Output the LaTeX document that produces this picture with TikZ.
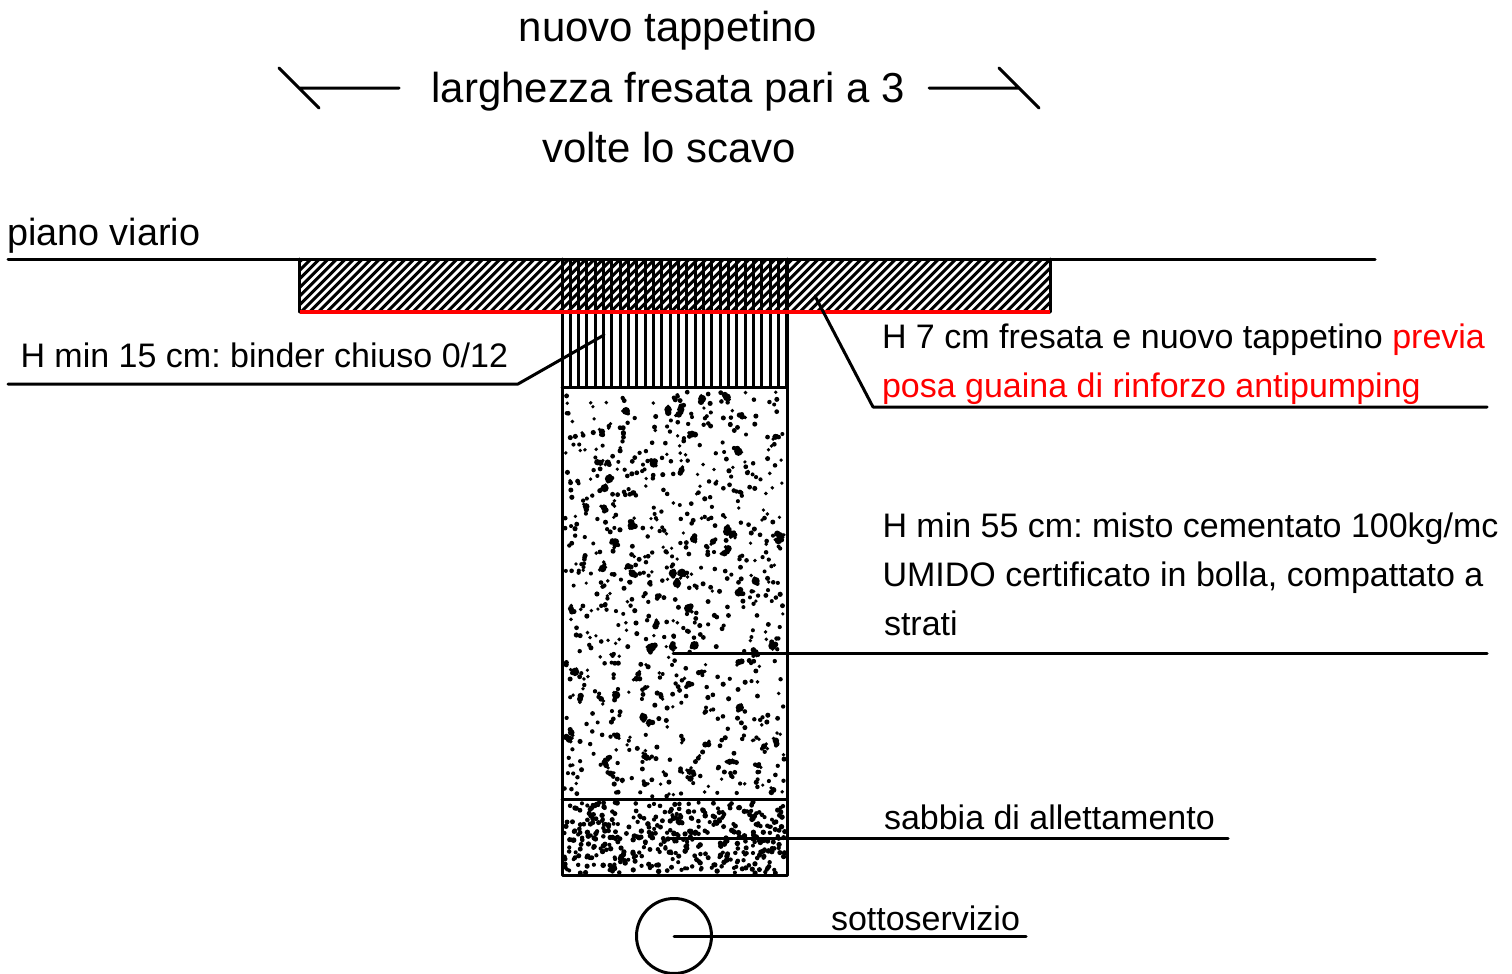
\documentclass[tikz,border=0pt]{standalone}
\usepackage{fontspec}
\setmainfont{Liberation Sans}
\frenchspacing
\tikzset{
  lead/.style={line width=3pt,line cap=round,line join=round},
  txt/.style={inner sep=0pt,outer sep=0pt,anchor=base west,text=black},
  big/.style={inner sep=0pt,outer sep=0pt,anchor=base,font=\fontsize{41.9}{41.9}\selectfont},
  mid/.style={txt,font=\fontsize{34}{34}\selectfont},
}
\newcommand{\speckle}[7]{% x0 x1 y0 y1 count rmin rmax
  \pgfmathsetmacro{\spw}{#2-#1}\pgfmathsetmacro{\sph}{#4-#3}\pgfmathsetmacro{\spr}{#7-#6}
  \foreach \k in {1,...,#5}{
    \pgfmathsetmacro{\px}{#1+rnd*\spw}\pgfmathsetmacro{\py}{#3+rnd*\sph}\pgfmathsetmacro{\pr}{#6+rnd*\spr}
    \fill[black] (\px,\py) circle[radius=\pr];
  }}
\newcommand{\blobs}[5]{% x0 x1 y0 y1 count
  \pgfmathsetmacro{\spw}{#2-#1}\pgfmathsetmacro{\sph}{#4-#3}
  \foreach \k in {1,...,#5}{
    \pgfmathsetmacro{\px}{#1+rnd*\spw}\pgfmathsetmacro{\py}{#3+rnd*\sph}
    \pgfmathsetmacro{\aa}{rnd*360}\pgfmathsetmacro{\bb}{\aa+90+rnd*120}
    \pgfmathsetmacro{\ra}{2.8+rnd*1.6}\pgfmathsetmacro{\rb}{1.9+rnd*1.4}
    \fill[black] (\px,\py) circle[radius=\ra] ({\px+3.2*cos(\aa)},{\py+3.2*sin(\aa)}) circle[radius=\rb] ({\px+3.2*cos(\bb)},{\py+3.2*sin(\bb)}) circle[radius=1.9];
  }}
\begin{document}
\begin{tikzpicture}[x=1pt,y=-1pt]
\useasboundingbox (0,0) rectangle (1512,974);
\pgfmathsetseed{90731}
% hatching
\begin{scope}
\clip (299,259) rectangle (1050,312);
\foreach \i in {-8,...,90}{\draw[line width=3pt] ({299+\i*8.6},314)--({299+\i*8.6+57},257);}
\foreach \i in {0,...,27}{\draw[line width=3pt] ({562+\i*8.33},259)--({562+\i*8.33},312);}
\end{scope}
\begin{scope}
\clip (562,312) rectangle (787,387);
\foreach \i in {0,...,27}{\draw[line width=3pt] ({562+\i*8.33},312)--({562+\i*8.33},387);}
\end{scope}
% speckle
\begin{scope}
\clip (562,387) rectangle (787,875);
\speckle{564}{785}{392}{797}{760}{1.8}{2.6}
\blobs{568}{780}{396}{792}{72}
\speckle{564}{785}{802}{873}{430}{2.0}{2.8}
\end{scope}
% outlines
\draw[lead] (299,312)--(299,259) (1050,259)--(1050,312);
\draw[lead] (562,259)--(562,875)--(787,875)--(787,259);
\draw[lead] (562,387)--(787,387) (562,799)--(787,799);
\coordinate (pvA) at (8,259); \coordinate (pvB) at (1375,259);
\draw[lead] (pvA)--(pvB);
\coordinate (redA) at (300,312); \coordinate (redB) at (1050,312);
\draw[line width=4pt,red] (redA)--(redB);
% arrows
\coordinate (la0) at (399,88); \coordinate (la1) at (299,88);
\coordinate (la2) at (279,68); \coordinate (la3) at (319,108);
\draw[lead] (la0)--(la1) (la2)--(la3);
\coordinate (ra0) at (929,88); \coordinate (ra1) at (1019,88);
\coordinate (ra2) at (999,68); \coordinate (ra3) at (1039,108);
\draw[lead] (ra0)--(ra1) (ra2)--(ra3);
% leaders
\coordinate (bA) at (8,384); \coordinate (bB) at (518,384); \coordinate (bC) at (604,335);
\draw[lead] (bA)--(bB)--(bC);
\coordinate (tA) at (815,296); \coordinate (tB) at (873,407); \coordinate (tC) at (1487,407);
\draw[lead] (tA)--(tB)--(tC);
\coordinate (mA) at (673,653); \coordinate (mB) at (1487,653);
\draw[lead] (mA)--(mB);
\coordinate (sA) at (670,838); \coordinate (sB) at (1228,838);
\draw[lead] (sA)--(sB);
\node[circle,draw,line width=3pt,minimum size=75pt,inner sep=0pt] (pipe) at (674,936) {};
\coordinate (ssB) at (1026,936);
\draw[lead] (pipe.center)--(ssB);
% text
\node[big] (t1) at (668,42) {nuovo tappetino};
\node[big] (t2) at (668,102) {larghezza fresata pari a 3};
\node[big] (t3) at (669,162) {volte lo scavo};
\node[txt,font=\fontsize{37.8}{37.8}\selectfont] (pv) at (7,245) {piano viario};
\node[mid] (bd) at (20.5,367) {H min 15 cm: binder chiuso 0/12};
\node[mid] (h7a) at (882,348) {H 7 cm fresata e nuovo tappetino \textcolor{red}{previa}};
\node[mid,text=red] (h7b) at (882,397) {posa guaina di rinforzo antipumping};
\node[mid] (m1) at (882.5,537) {H min 55 cm: misto cementato 100kg/mc};
\node[mid] (m2) at (882.5,586) {UMIDO certificato in bolla, compattato a};
\node[mid] (m3) at (884,635) {strati};
\node[mid] (sb) at (884,829) {sabbia di allettamento};
\node[mid] (ss) at (831,930) {sottoservizio};
\end{tikzpicture}
\end{document}
